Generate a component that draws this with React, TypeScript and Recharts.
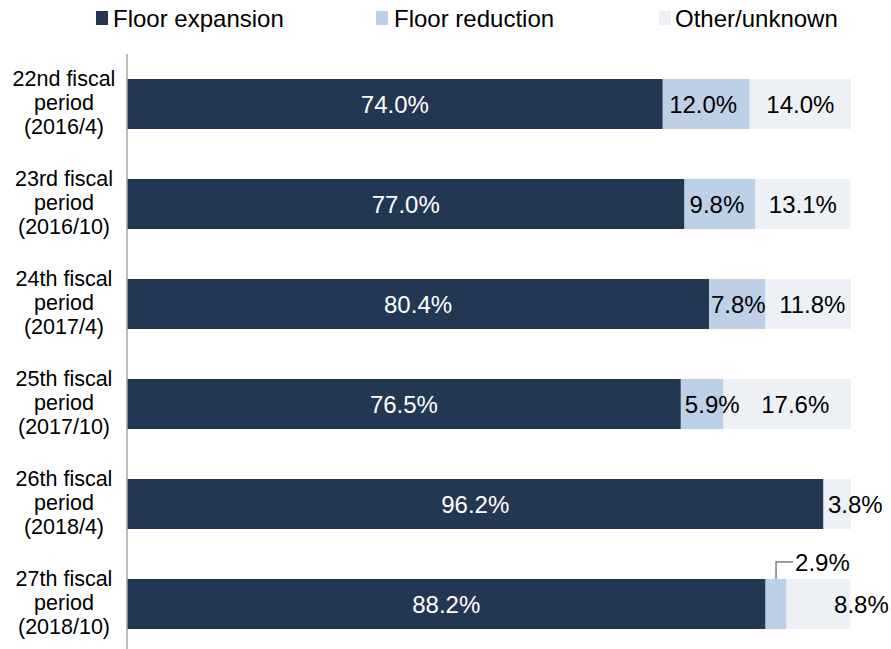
import React from 'react';
import { BarChart, Bar, XAxis, YAxis, LabelList } from 'recharts';

const categories = [
  '22nd fiscal\nperiod\n(2016/4)',
  '23rd fiscal\nperiod\n(2016/10)',
  '24th fiscal\nperiod\n(2017/4)',
  '25th fiscal\nperiod\n(2017/10)',
  '26th fiscal\nperiod\n(2018/4)',
  '27th fiscal\nperiod\n(2018/10)',
];
const expansion = [74.0, 77.0, 80.4, 76.5, 96.2, 88.2];
const reduction = [12.0, 9.8, 7.8, 5.9, 0, 2.9];
const other = [14.0, 13.1, 11.8, 17.6, 3.8, 8.8];
const seriesNames = ['Floor expansion', 'Floor reduction', 'Other/unknown'];

const COLORS = ['#243752', '#BDD0E6', '#EDF1F5'];
const FONT = '"Liberation Sans", Arial, sans-serif';

const data = categories.map((name, i) => ({
  name,
  expansion: expansion[i],
  reduction: reduction[i],
  other: other[i],
}));

// label nudges (px) to mimic manual placement in the original
const expansionDx = [0, 0, 0, 0, 0, 0];
const reductionDx = [-3, -3, 1, 10, 0, 0];
const otherDx = [0, 0, 4, 8, 18, 43];
const reductionCallout = [false, false, false, false, false, true];

const rowOf = (d: any) => categories.indexOf(d.name);

const CatTick = (props: any) => {
  const { y, payload } = props;
  const lines = String(payload.value).split('\n');
  return (
    <g>
      {lines.map((l: string, i: number) => (
        <text
          key={i}
          x={64}
          y={y + (i - 1) * 24}
          dy={6}
          textAnchor="middle"
          fontSize={21.5}
          fontFamily={FONT}
          fill="#000"
        >
          {l}
        </text>
      ))}
    </g>
  );
};

const makeLabel = (vals: number[], color: string, dxs: number[], callouts: boolean[] | null) => (props: any) => {
  const { x, y, width, height, value } = props;
  const row = Number(value);
  const v = vals[row];
  if (!v) return null;
  const txt = `${v.toFixed(1)}%`;
  const cx = Number(x) + Number(width) / 2;
  const cy = Number(y) + Number(height) / 2;
  if (callouts && callouts[row]) {
    const top = Number(y);
    return (
      <g>
        <polyline
          points={`${cx},${top} ${cx},${top - 17} ${cx + 17},${top - 17}`}
          fill="none"
          stroke="#7F7F7F"
          strokeWidth={1.5}
        />
        <text
          x={cx + 19}
          y={top - 17}
          textAnchor="start"
          dominantBaseline="central"
          fontSize={24}
          fontFamily={FONT}
          fill="#000"
        >
          {txt}
        </text>
      </g>
    );
  }
  const dx = dxs[row] || 0;
  return (
    <text
      x={cx + dx}
      y={cy}
      textAnchor="middle"
      dominantBaseline="central"
      fontSize={24}
      fontFamily={FONT}
      fill={color}
    >
      {txt}
    </text>
  );
};

const Legend = () => {
  const items = [
    { sq: 96, tx: 113 },
    { sq: 376, tx: 394 },
    { sq: 659, tx: 675 },
  ];
  return (
    <>
      {items.map((it, i) => (
        <React.Fragment key={i}>
          <div
            style={{
              position: 'absolute',
              left: it.sq,
              top: 11,
              width: 12,
              height: 14,
              background: COLORS[i],
            }}
          />
          <div
            style={{
              position: 'absolute',
              left: it.tx,
              top: 5,
              fontSize: 24,
              lineHeight: '28px',
              fontFamily: FONT,
              color: '#000',
              whiteSpace: 'nowrap',
            }}
          >
            {seriesNames[i]}
          </div>
        </React.Fragment>
      ))}
    </>
  );
};

export default function App() {
  return (
    <div
      style={{
        position: 'absolute',
        left: 0,
        top: 0,
        width: 891,
        height: 649,
        overflow: 'hidden',
        background: '#fff',
      }}
    >
      <BarChart
        width={891}
        height={660}
        data={data}
        layout="vertical"
        margin={{ top: 54, right: 40, bottom: 6, left: 0 }}
        barCategoryGap={50}
      >
        <XAxis type="number" domain={[0, 100]} hide allowDataOverflow />
        <YAxis
          type="category"
          dataKey="name"
          width={127}
          interval={0}
          tickLine={false}
          axisLine={{ stroke: '#A6A6A6', strokeWidth: 1.5 }}
          tick={<CatTick />}
        />
        <Bar dataKey="expansion" stackId="a" fill={COLORS[0]} barSize={50} isAnimationActive={false}>
          <LabelList dataKey={rowOf} content={makeLabel(expansion, '#fff', expansionDx, null)} />
        </Bar>
        <Bar dataKey="reduction" stackId="a" fill={COLORS[1]} barSize={50} isAnimationActive={false}>
          <LabelList dataKey={rowOf} content={makeLabel(reduction, '#000', reductionDx, reductionCallout)} />
        </Bar>
        <Bar dataKey="other" stackId="a" fill={COLORS[2]} barSize={50} isAnimationActive={false}>
          <LabelList dataKey={rowOf} content={makeLabel(other, '#000', otherDx, null)} />
        </Bar>
      </BarChart>
      <Legend />
    </div>
  );
}
